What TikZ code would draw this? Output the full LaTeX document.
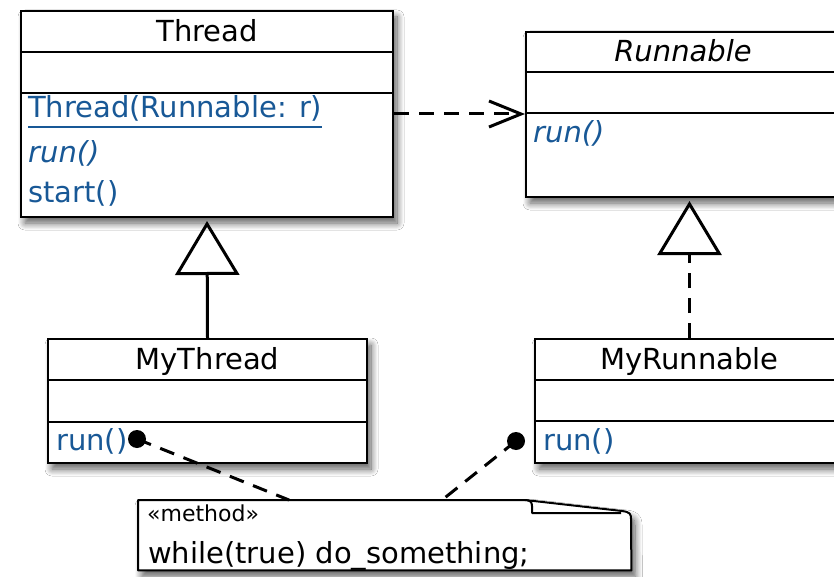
\documentclass[tikz,border=0pt]{standalone}
\usepackage{fontspec}
\setmainfont{DejaVu Sans}
\usetikzlibrary{arrows.meta,shadows.blur,calc}

\definecolor{umlblue}{RGB}{24,88,150}
\newcommand\umlsize{\fontsize{29}{34}\selectfont}
\newcommand\stereosize{\fontsize{22}{26}\selectfont}

\tikzset{
  umlshadow/.style={blur shadow={shadow xshift=4pt, shadow yshift=-6pt,
      shadow blur radius=7pt, shadow blur steps=10, shadow opacity=65}},
  classbox/.style={draw=black, line width=2pt, fill=white, inner sep=0pt,
      anchor=north west, umlshadow},
  divider/.style={draw=black, line width=2pt},
  classname/.style={anchor=base, inner sep=0pt, font=\umlsize\upshape},
  member/.style={anchor=base west, inner sep=0pt, font=\umlsize\upshape, text=umlblue},
  abstractmember/.style={member, font=\umlsize\itshape},
  dependency/.style={line width=3pt, dash pattern=on 15pt off 10pt,
      -{Straight Barb[length=32pt, width=26pt]}},
  generalize/.style={line width=3pt, shorten >=3pt,
      -{Triangle[open, length=54pt, width=64pt]}},
  realize/.style={generalize, dash pattern=on 15pt off 10pt},
  notelink/.style={line width=3pt, dash pattern=on 15pt off 10pt},
  anchordot/.style={circle, fill=black, inner sep=0pt, minimum size=18pt},
  notebox/.style={draw=black, line width=2pt, fill=white, line join=round, umlshadow},
}

\begin{document}
\begin{tikzpicture}[x=1pt, y=-1pt]
\useasboundingbox (0,0) rectangle (834,577);
\clip (0,0) rectangle (834,577);
\fill[white] (0,0) rectangle (834,577);

% Thread
\node[classbox, minimum width=372pt, minimum height=206pt] (thread) at (20,10) {};
\draw[divider] ($(thread.north west)+(0,42)$) -- ($(thread.north east)+(0,42)$);
\draw[divider] ($(thread.north west)+(0,83)$) -- ($(thread.north east)+(0,83)$);
\node[classname] (threadname) at ($(thread.north)+(0,31.5)$) {Thread};
\node[member] (ctor) at (28,118) {Thread(Runnable: r)};
\draw[umlblue, line width=1.6pt] ($(ctor.base west)+(0,9)$) -- ($(ctor.base east)+(0,9)$);
\node[abstractmember] (threadrun) at (28,163) {run()};
\node[member] (threadstart) at (28,203) {start()};

% Runnable
\node[classbox, minimum width=316pt, minimum height=165pt] (runnable) at (525,31) {};
\draw[divider] ($(runnable.north west)+(0,41)$) -- ($(runnable.north east)+(0,41)$);
\draw[divider] ($(runnable.north west)+(0,82)$) -- ($(runnable.north east)+(0,82)$);
\node[classname, font=\umlsize\itshape] (runnablename) at (683,62) {Runnable};
\node[abstractmember] (runnablerun) at (533,143) {run()};

% MyThread
\node[classbox, minimum width=319pt, minimum height=124pt] (mythread) at (47,338) {};
\draw[divider] ($(mythread.north west)+(0,42)$) -- ($(mythread.north east)+(0,42)$);
\draw[divider] ($(mythread.north west)+(0,84)$) -- ($(mythread.north east)+(0,84)$);
\node[classname] (mythreadname) at ($(mythread.north)+(0,31)$) {MyThread};
\node[member] (mythreadrun) at (56,450) {run()};

% MyRunnable
\node[classbox, minimum width=309pt, minimum height=124pt] (myrunnable) at (534,338) {};
\draw[divider] ($(myrunnable.north west)+(0,42)$) -- ($(myrunnable.north east)+(0,42)$);
\draw[divider] ($(myrunnable.north west)+(0,83)$) -- ($(myrunnable.north east)+(0,83)$);
\node[classname] (myrunnablename) at ($(myrunnable.north)+(0,31)$) {MyRunnable};
\node[member] (myrunnablerun) at (543,450) {run()};

% Note with folded corner
\node[anchor=north west, inner sep=0pt, minimum width=493pt, minimum height=70pt] (note) at (138,500) {};
\path[notebox] (note.north west) -- (525,500) -- (622,511)
  .. controls (630,512) and (631,514) .. (631,519) -- (note.south east)
  -- (note.south west) -- cycle;
\draw[line width=2pt, line join=round] (525,500) .. controls (530,500) and (532,502) .. (532,506)
  -- (532,513) -- (621,513);
\node[anchor=base west, inner sep=0pt, font=\stereosize] (stereo) at (147,521) {«method»};
\node[anchor=base west, inner sep=0pt, font=\umlsize] (body) at (148,563) {while(true) do\_something;};
\coordinate (noteA) at ($(note.north west)+(151,0)$);
\coordinate (noteB) at ($(note.north west)+(304,0)$);

% Relationships
\draw[dependency] (thread.east) -- (thread.east -| runnable.west);
\draw[generalize] (mythread.north) -- (thread.south);
\draw[realize] (myrunnable.north) -- (myrunnable.north |- runnable.south);

% Note anchors
\node[anchordot] (dotA) at (137,439) {};
\node[anchordot] (dotB) at (516,441) {};
\draw[notelink] (dotA.center) -- (noteA);
\draw[notelink] (dotB.center) -- (noteB);
\end{tikzpicture}
\end{document}
